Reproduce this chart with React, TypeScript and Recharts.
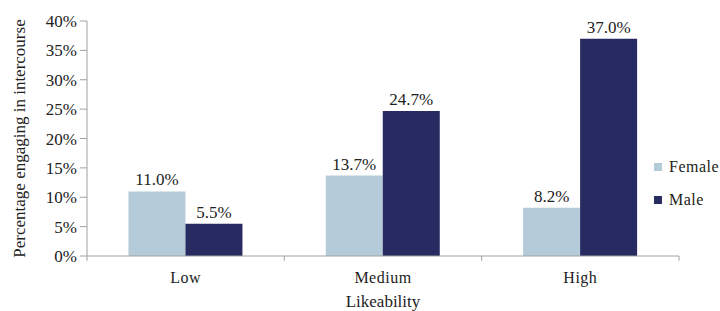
import React from 'react';
import { BarChart, Bar, XAxis, YAxis, LabelList, ReferenceLine } from 'recharts';

const categories = ['Low', 'Medium', 'High'];
const female = [11.0, 13.7, 8.2];
const male = [5.5, 24.7, 37.0];
const yTicks = [0, 5, 10, 15, 20, 25, 30, 35, 40];

const data = categories.map((name, i) => ({ name, female: female[i], male: male[i] }));

const font = '"Liberation Serif", "Times New Roman", serif';
const axisColor = '#a0a0a0';
const textColor = '#222';
const femaleColor = '#b5cbd9';
const maleColor = '#282a62';

const fmt = (v: number) => `${v.toFixed(1)}%`;
const textStyle = { fill: textColor, fontFamily: font, fontSize: 17 };

// small tick marks below the x axis at the category boundaries
const boundaryMark = (cat: string, position: 'start' | 'end') => (
    <ReferenceLine
        key={`${cat}-${position}`}
        segment={[{ x: cat, y: 0 }, { x: cat, y: -0.8 }]}
        position={position}
        stroke={axisColor}
        ifOverflow="visible"
    />
);

const App: React.FC = () => (
    <div style={{ position: 'absolute', left: 0, top: 0, width: 720, height: 311, background: '#fff', fontFamily: font }}>
        <BarChart
            width={720}
            height={311}
            data={data}
            margin={{ top: 21, right: 41, bottom: 0, left: 0 }}
            barCategoryGap="21%"
            barGap={0}
        >
            <YAxis
                width={87}
                domain={[0, 40]}
                ticks={yTicks}
                interval={0}
                allowDataOverflow
                tickFormatter={(v: number) => `${v}%`}
                axisLine={{ stroke: axisColor }}
                tickLine={{ stroke: axisColor }}
                tickSize={7}
                tickMargin={3}
                tick={textStyle}
                label={{
                    value: 'Percentage engaging in intercourse',
                    angle: -90,
                    position: 'insideLeft',
                    offset: 19,
                    style: { ...textStyle, textAnchor: 'middle' },
                }}
            />
            <XAxis
                dataKey="name"
                height={55}
                axisLine={{ stroke: axisColor }}
                tickLine={false}
                tick={{ ...textStyle, fontSize: 16, letterSpacing: 0.5 }}
                tickMargin={10}
                label={{
                    value: 'Likeability',
                    position: 'insideBottom',
                    offset: 4,
                    style: textStyle,
                }}
            />
            <Bar dataKey="female" name="Female" fill={femaleColor} isAnimationActive={false}>
                <LabelList dataKey="female" position="top" offset={6} formatter={fmt} style={textStyle} />
            </Bar>
            <Bar dataKey="male" name="Male" fill={maleColor} isAnimationActive={false}>
                <LabelList dataKey="male" position="top" offset={6} formatter={fmt} style={textStyle} />
            </Bar>
            {categories.map((c) => boundaryMark(c, 'start'))}
            {boundaryMark(categories[categories.length - 1], 'end')}
        </BarChart>
        <div style={{ position: 'absolute', left: 654, top: 150, fontSize: 16, color: textColor, letterSpacing: 0.5 }}>
            {[
                { label: 'Female', color: femaleColor },
                { label: 'Male', color: maleColor },
            ].map((item) => (
                <div key={item.label} style={{ display: 'flex', alignItems: 'center', height: 33 }}>
                    <span style={{ width: 8, height: 8, background: item.color, marginRight: 7, display: 'inline-block' }} />
                    {item.label}
                </div>
            ))}
        </div>
    </div>
);

export default App;
